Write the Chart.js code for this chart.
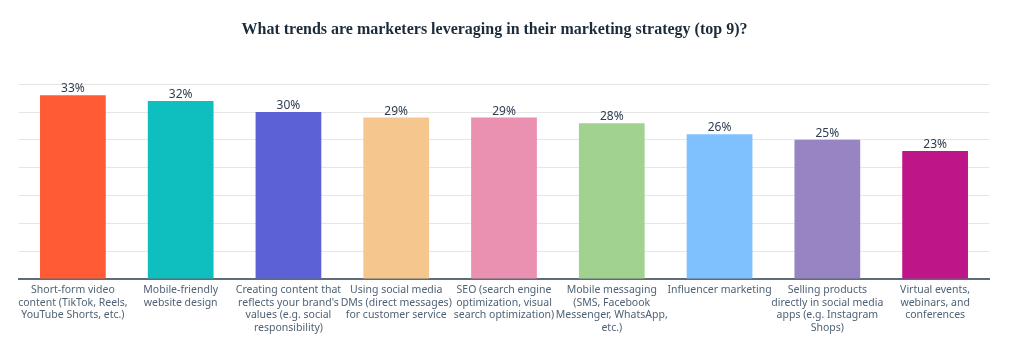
<!DOCTYPE html>
<html>
<head>
<meta charset="utf-8">
<script src="https://cdn.jsdelivr.net/npm/chart.js@4"></script>
<style>
  html, body { margin: 0; padding: 0; background: #ffffff; }
  #wrap { width: 1015px; height: 355px; }
</style>
</head>
<body>
<div id="wrap"><canvas id="c" width="1015" height="355"></canvas></div>
<script>
const titleText = "What trends are marketers leveraging in their marketing strategy (top 9)?";
const categories = [
  ["Short-form video", "content (TikTok, Reels,", "YouTube Shorts, etc.)"],
  ["Mobile-friendly", "website design"],
  ["Creating content that", "reflects your brand's", "values (e.g. social", "responsibility)"],
  ["Using social media", "DMs (direct messages)", "for customer service"],
  ["SEO (search engine", "optimization, visual", "search optimization)"],
  ["Mobile messaging", "(SMS, Facebook", "Messenger, WhatsApp,", "etc.)"],
  ["Influencer marketing"],
  ["Selling products", "directly in social media", "apps (e.g. Instagram", "Shops)"],
  ["Virtual events,", "webinars, and", "conferences"]
];
const values = [33, 32, 30, 29, 29, 28, 26, 25, 23];
const barColors = ["#FF5C35", "#0FBFBF", "#5C62D6", "#F5C78E", "#EA90B1", "#A2D28F", "#7FC1FF", "#9784C2", "#BE1589"];
const yMax = 35;
const yStep = 5;

const valueLabels = {
  id: 'valueLabels',
  afterDatasetsDraw(chart) {
    const ctx = chart.ctx;
    const meta = chart.getDatasetMeta(0);
    ctx.save();
    ctx.font = '12px "Noto Sans", sans-serif';
    ctx.fillStyle = '#2D3E50';
    ctx.textAlign = 'center';
    ctx.textBaseline = 'alphabetic';
    meta.data.forEach((bar, i) => {
      ctx.fillText(values[i] + '%', bar.x, bar.y - 3);
    });
    ctx.restore();
  }
};

new Chart(document.getElementById('c'), {
  type: 'bar',
  data: {
    labels: categories,
    datasets: [{
      data: values,
      backgroundColor: barColors,
      borderWidth: 0,
      categoryPercentage: 1,
      barPercentage: 0.61
    }]
  },
  options: {
    responsive: false,
    animation: false,
    layout: { padding: { left: 0, right: 26, top: 0, bottom: 0 } },
    plugins: {
      legend: { display: false },
      tooltip: { enabled: false },
      title: {
        display: true,
        text: titleText,
        color: '#1C2B3A',
        font: { family: '"Liberation Serif", "DejaVu Serif", serif', size: 16, weight: 'bold' },
        padding: { top: 20, bottom: 45 }
      }
    },
    scales: {
      x: {
        grid: { display: false, drawTicks: false },
        border: { display: true, color: '#5F6B76', width: 2 },
        ticks: {
          color: '#4F6275',
          font: { family: '"Noto Sans", sans-serif', size: 10.5, lineHeight: 1.2 },
          padding: 5,
          maxRotation: 0,
          autoSkip: false
        },
        afterFit(scale) { scale.height = 76; }
      },
      y: {
        min: 0,
        max: yMax,
        ticks: { display: false, stepSize: yStep },
        grid: { color: '#E6E6E6', lineWidth: 1, drawTicks: false },
        border: { display: false },
        afterFit(scale) { scale.width = 19; }
      }
    }
  },
  plugins: [valueLabels]
});
</script>
</body>
</html>
